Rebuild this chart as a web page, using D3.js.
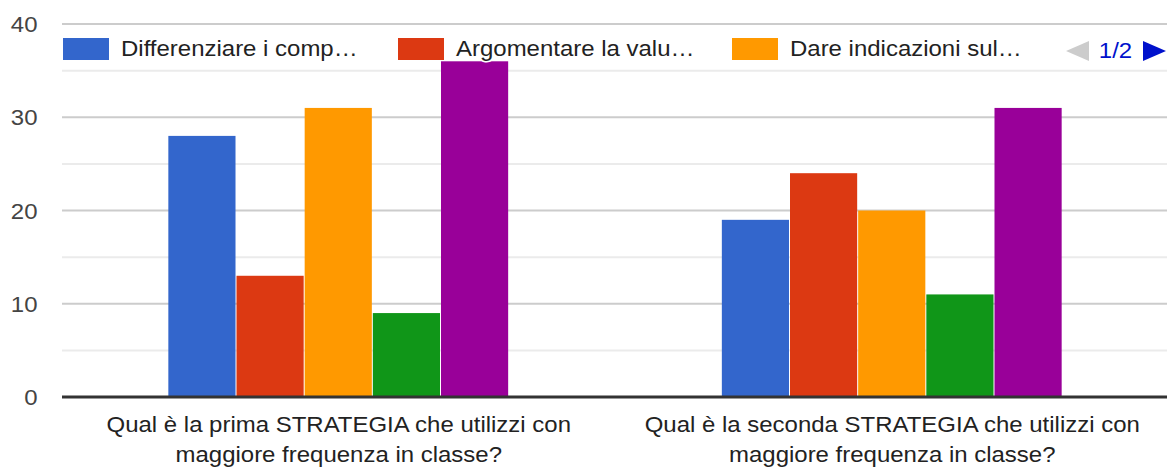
<!DOCTYPE html>
<html>
<head>
<meta charset="utf-8">
<script src="https://cdn.jsdelivr.net/npm/d3@7/dist/d3.min.js"></script>
<style>
  html, body { margin: 0; padding: 0; background: #fff; }
  svg { display: block; font-family: "Liberation Sans", Arial, sans-serif; }
</style>
</head>
<body>
<svg id="chart" width="1167" height="468"></svg>
<script>
// Questions (x categories), each wrapped on two lines
const categories = [
  "Qual è la prima STRATEGIA che utilizzi con maggiore frequenza in classe?",
  "Qual è la seconda STRATEGIA che utilizzi con maggiore frequenza in classe?"
];
const categoryLines = [
  ["Qual è la prima STRATEGIA che utilizzi con", "maggiore frequenza in classe?"],
  ["Qual è la seconda STRATEGIA che utilizzi con", "maggiore frequenza in classe?"]
];

// Answer options (series); only the first page of the legend is shown
const seriesNames = ["Differenziare i comp…", "Argomentare la valu…", "Dare indicazioni sul…", "Opzione 4", "Opzione 5"];
const seriesColors = ["#3366cc", "#dc3912", "#ff9900", "#109618", "#990099"];
const legendPageSize = 3;

// Response counts per series, one value per question
const seriesValues = [
  [28, 19],
  [13, 24],
  [31, 20],
  [9, 11],
  [36, 31]
];

const yTicks = [0, 10, 20, 30, 40];
const yMinorTicks = [5, 15, 25, 35];

const FONT = "'Liberation Sans', Arial, sans-serif";
const FS = 22;
const STRETCH = 1.09; // text is drawn slightly wide

const svg = d3.select("#chart");

const plotLeft = 62, plotRight = 1167;
const y = d3.scaleLinear().domain([0, 40]).range([397, 24]);
const x0 = d3.scaleBand().domain(categories).range([62, 1169]);
const x1 = d3.scaleBand().domain(seriesNames).range([0, x0.bandwidth()]).paddingOuter(1.56);

// Gridlines
svg.append("g").selectAll("line").data(yMinorTicks).join("line")
  .attr("x1", plotLeft).attr("x2", plotRight)
  .attr("y1", d => y(d)).attr("y2", d => y(d))
  .attr("stroke", "#ebebeb").attr("stroke-width", 2);
svg.append("g").selectAll("line").data(yTicks.filter(d => d !== 0)).join("line")
  .attr("x1", plotLeft).attr("x2", plotRight)
  .attr("y1", d => y(d)).attr("y2", d => y(d))
  .attr("stroke", "#cccccc").attr("stroke-width", 2);

// Y axis labels
const yAxis = svg.append("g").attr("transform", "translate(37.5,0)")
  .call(d3.axisLeft(y).tickValues(yTicks).tickSize(0).tickPadding(0).tickFormat(d3.format("d")));
yAxis.select(".domain").remove();
yAxis.selectAll("text")
  .attr("x", 0).attr("dy", "0.35em")
  .attr("transform", `scale(${STRETCH},1)`)
  .attr("font-size", FS).attr("fill", "#444")
  .style("font-family", FONT);

// Bars
const groups = svg.append("g").selectAll("g").data(categories).join("g")
  .attr("transform", d => `translate(${x0(d)},0)`);
groups.selectAll("rect")
  .data((c, ci) => seriesNames.map((s, si) => ({ s, si, v: seriesValues[si][ci] })))
  .join("rect")
  .attr("x", d => x1(d.s))
  .attr("width", x1.bandwidth() - 1)
  .attr("y", d => y(d.v))
  .attr("height", d => y(0) - y(d.v))
  .attr("fill", d => seriesColors[d.si]);

// Baseline
svg.append("line")
  .attr("x1", plotLeft).attr("x2", plotRight)
  .attr("y1", y(0)).attr("y2", y(0))
  .attr("stroke", "#333").attr("stroke-width", 3);

// X axis category labels
const xAxis = svg.append("g").attr("transform", `translate(0,${y(0)})`)
  .call(d3.axisBottom(x0).tickSize(0).tickFormat(""));
xAxis.select(".domain").remove();
xAxis.selectAll(".tick").each(function (d, i) {
  const t = d3.select(this).append("text")
    .attr("transform", `scale(${STRETCH},1)`)
    .attr("text-anchor", "middle").attr("fill", "#222").attr("font-size", FS)
    .style("font-family", FONT);
  categoryLines[i].forEach((line, li) => {
    t.append("tspan").attr("x", 0).attr("y", 35.5 + li * 30).text(line);
  });
});

// Legend (first page)
const legend = svg.append("g");
const legendX = [63, 398, 732];
seriesNames.slice(0, legendPageSize).forEach((name, i) => {
  const g = legend.append("g").attr("transform", `translate(${legendX[i]},38)`);
  g.append("rect").attr("width", 46).attr("height", 22).attr("fill", seriesColors[i]);
  g.append("text")
    .attr("transform", `translate(58,18) scale(${STRETCH},1)`)
    .attr("font-size", FS).attr("fill", "#222")
    .attr("stroke", "#fff").attr("stroke-width", 3).attr("paint-order", "stroke")
    .text(name);
});

// Legend pager
const pager = svg.append("g").attr("transform", "translate(0,51)");
pager.append("path").attr("d", "M1089,-10 L1066,0 L1089,10 Z").attr("fill", "#ccc");
pager.append("text")
  .attr("transform", `translate(1115.5,6.5) scale(${STRETCH},1)`)
  .attr("text-anchor", "middle")
  .attr("font-size", FS).attr("fill", "#0011cc").text("1/" + Math.ceil(seriesNames.length / legendPageSize));
pager.append("path").attr("d", "M1143,-10 L1166,0 L1143,10 Z").attr("fill", "#0011cc");
</script>
</body>
</html>
